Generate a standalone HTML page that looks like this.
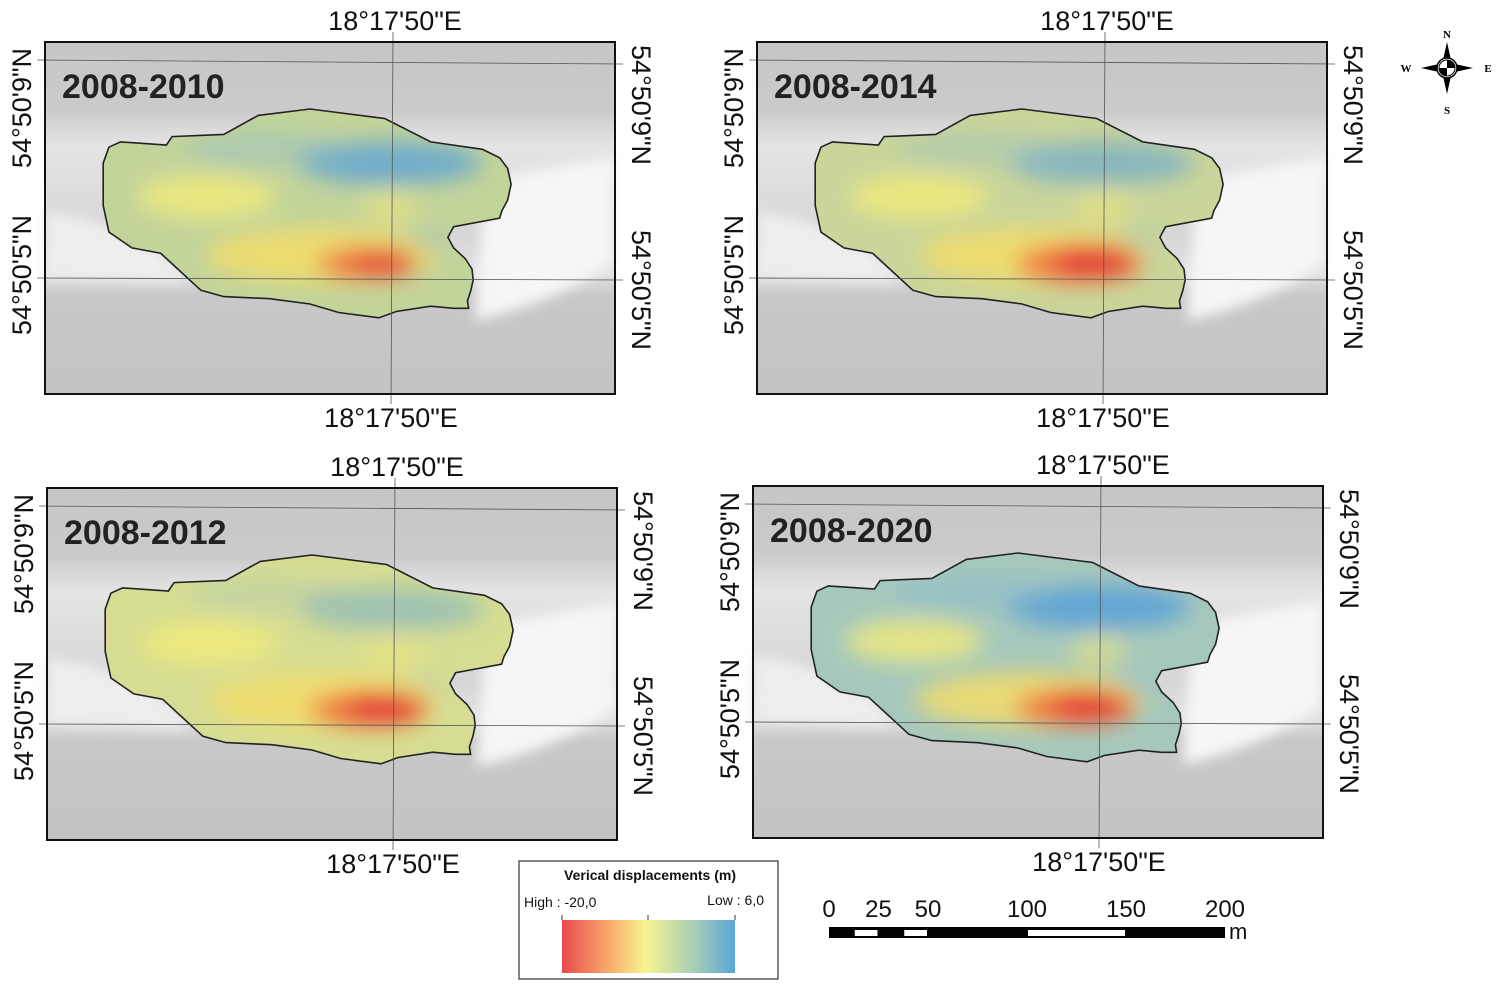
<!DOCTYPE html>
<html><head><meta charset="utf-8">
<style>
body{margin:0;background:#fff;}
svg{display:block;font-family:"Liberation Sans",sans-serif;}
</style></head>
<body>
<svg id="root" width="1499" height="987" viewBox="0 0 1499 987">
<defs>
<filter id="blur" x="-50%" y="-50%" width="200%" height="200%"><feGaussianBlur stdDeviation="11"/></filter>
<filter id="blur2" x="-50%" y="-50%" width="200%" height="200%"><feGaussianBlur stdDeviation="6"/></filter>
<linearGradient id="hill" x1="0" y1="0" x2="0" y2="1">
<stop offset="0" stop-color="#c6c6c6"/><stop offset="0.2" stop-color="#cbcbcb"/>
<stop offset="0.25" stop-color="#dadada"/><stop offset="0.3" stop-color="#e4e4e4"/>
<stop offset="0.55" stop-color="#d6d6d6"/><stop offset="0.66" stop-color="#e2e2e2"/>
<stop offset="0.72" stop-color="#c8c8c8"/><stop offset="1" stop-color="#c4c4c4"/></linearGradient>
<linearGradient id="legendGrad" x1="0" y1="0" x2="1" y2="0">
<stop offset="0" stop-color="#e8494a"/><stop offset="0.25" stop-color="#f7a36a"/>
<stop offset="0.48" stop-color="#f7f48e"/><stop offset="0.75" stop-color="#acd0b4"/>
<stop offset="1" stop-color="#5aa6d8"/></linearGradient>
</defs>
</svg>
<script>
const periods=["2008-2010","2008-2014","2008-2012","2008-2020"];
const frameX=[45,757,47,753];
const frameY=[42,42,488,486];
const baseTone=["#c3d49a","#c9d59a","#d6dd92","#a6c8bc"];
const redStrength=[0.8,1.0,0.95,0.95];
const blueStrength=[0.8,0.6,0.45,0.95];
const legendLabels=["High : -20,0","Low : 6,0"];
const scaleTicks=[0,25,50,100,150,200];

const NS="http://www.w3.org/2000/svg";
const root=document.getElementById('root');
function mk(tag,attrs,parent){const e=document.createElementNS(NS,tag);for(const k in attrs)e.setAttribute(k,attrs[k]);(parent||root).appendChild(e);return e;}
const TX=x=>(x+5)*1.149-5, TY=y=>(y-67)*1.06+67;
const poly0=[[55,103],[65,98],[105,101],[110,93],[155,91],[185,73],[230,67],[295,76],[335,98],[380,105],[395,113],[402,123],[405,138],[402,153],[397,163],[395,170],[355,178],[350,188],[355,198],[365,208],[371,218],[372,228],[370,238],[367,248],[368,255],[355,255],[335,253],[305,258],[290,264],[255,259],[230,251],[195,246],[155,244],[135,238],[115,218],[100,203],[75,198],[55,183],[50,158],[50,118]];
const poly=poly0.map(p=>[TX(p[0]).toFixed(1),TY(p[1]).toFixed(1)]);
const W=570,H=352;
function blob(parent,cx,cy,rx,ry,fill,op){mk('ellipse',{cx:TX(cx),cy:TY(cy),rx:rx*1.15,ry:ry,fill,'fill-opacity':op},parent);}
for(let i=0;i<4;i++){
  const g=mk('g',{transform:`translate(${frameX[i]},${frameY[i]})`});
  
  
  mk('rect',{x:0,y:0,width:W,height:H,fill:'url(#hill)'},g);
  mk('path',{d:`M440 140 Q500 125 570 115 L570 220 Q500 265 430 278 Z`,fill:'#f6f6f6',filter:'url(#blur2)'},g);
  mk('path',{d:`M0 170 Q60 175 120 215 L140 240 L0 235 Z`,fill:'#eeeeee',filter:'url(#blur2)'},g);
  const cid='clip'+i;
  const cp=mk('clipPath',{id:cid},g);
  const pts=poly.map(p=>p.join(',')).join(' ');
  mk('polygon',{points:pts},cp);
  const body=mk('g',{'clip-path':`url(#${cid})`},g);
  mk('rect',{x:0,y:0,width:W,height:H,fill:baseTone[i]},body);
  const bl=mk('g',{filter:'url(#blur)'},body);
  blob(bl,300,118,80,22,'#5fa4d6',blueStrength[i]);
  blob(bl,190,105,70,18,'#8ab9cf',blueStrength[i]*0.5);
  blob(bl,325,195,22,14,'#7ab0d0',blueStrength[i]*0.6);
  blob(bl,140,150,60,22,'#f4ec7a',0.8);
  blob(bl,300,160,25,15,'#f0e67a',0.6);
  blob(bl,240,205,100,28,'#f3dd6a',0.85);
  blob(bl,280,213,55*redStrength[i],20*redStrength[i],'#f07a40',0.95);
  blob(bl,292,210,36*redStrength[i],13*redStrength[i],'#e12f36',redStrength[i]);
  mk('polygon',{points:pts,fill:'none',stroke:'#222','stroke-width':1.6},g);
  mk('line',{x1:348,y1:-10,x2:346,y2:H+10,stroke:'#555','stroke-width':0.8},g);
  mk('line',{x1:-8,y1:18,x2:W+8,y2:22,stroke:'#555','stroke-width':0.8},g);
  mk('line',{x1:-8,y1:236,x2:W+8,y2:238,stroke:'#555','stroke-width':0.8},g);
  mk('rect',{x:0,y:0,width:W,height:H,fill:'none',stroke:'#111','stroke-width':2},g);
  const t=mk('text',{x:17,y:56,'font-size':34,'font-weight':'bold',fill:'#222','font-family':'"Liberation Sans Narrow","Liberation Sans",sans-serif'},g);t.textContent=periods[i];
  
  
  const top=mk('text',{x:350,y:-12,'font-size':27,'text-anchor':'middle',fill:'#111'},g);top.textContent="18°17'50\"E";
  
  
  const bot=mk('text',{x:346,y:H+33,'font-size':27,'text-anchor':'middle',fill:'#111'},g);bot.textContent="18°17'50\"E";
  
  
  [[66,'54°50\'9"N'],[233,'54°50\'5"N']].forEach(([cy,s])=>{
    const l=mk('text',{transform:`translate(-14,${cy}) rotate(-90)`,'font-size':27,'text-anchor':'middle',fill:'#111'},g);l.textContent=s;
    
    
  });
  [[63,'54°50\'9"N'],[248,'54°50\'5"N']].forEach(([cy,s])=>{
    const l=mk('text',{transform:`translate(${W+17},${cy}) rotate(90)`,'font-size':27,'text-anchor':'middle',fill:'#111'},g);l.textContent=s;
    
    
  });
}
const lg=mk('g',{});


mk('rect',{x:519,y:861,width:259,height:118,fill:'#fff',stroke:'#333','stroke-width':1.2},lg);
const lt=mk('text',{x:650,y:880,'font-size':14,'font-weight':'bold','text-anchor':'middle',fill:'#111'},lg);lt.textContent="Verical displacements (m)";
const l1=mk('text',{x:524,y:907,'font-size':14,fill:'#111'},lg);l1.textContent=legendLabels[0];
const l2=mk('text',{x:764,y:905,'font-size':14,'text-anchor':'end',fill:'#111'},lg);l2.textContent=legendLabels[1];
[562,648,735].forEach(x=>mk('line',{x1:x,y1:915,x2:x,y2:920,stroke:'#333'},lg));
mk('rect',{x:562,y:920,width:173,height:53,fill:'url(#legendGrad)'},lg);
const sb=mk('g',{});


const sx=v=>829+v*(1225-829)/200;
mk('rect',{x:sx(0),y:927,width:sx(200)-sx(0),height:11,fill:'#000'},sb);
[[12.5,25],[37.5,50],[100,150]].forEach(([a,b])=>mk('rect',{x:sx(a)+1,y:930,width:sx(b)-sx(a)-2,height:6,fill:'#fff'},sb));
scaleTicks.forEach(v=>{const t=mk('text',{x:sx(v),y:917,'font-size':24,'text-anchor':'middle',fill:'#111'},sb);t.textContent=v;});
const mt=mk('text',{x:1229,y:939,'font-size':22,fill:'#111'},sb);mt.textContent='m';
const cg=mk('g',{transform:'translate(1447,68)'});


mk('polygon',{points:'0,-26 4,-8 0,0 -4,-8',fill:'#000'},cg);
mk('polygon',{points:'0,26 4,8 0,0 -4,8',fill:'#000'},cg);
mk('polygon',{points:'-26,0 -8,-4 0,0 -8,4',fill:'#000'},cg);
mk('polygon',{points:'26,0 8,-4 0,0 8,4',fill:'#000'},cg);
mk('circle',{cx:0,cy:0,r:10,fill:'#fff',stroke:'#000','stroke-width':1.5},cg);
mk('path',{d:'M0 0 L0 -8 A8 8 0 0 1 8 0 Z',fill:'#000'},cg);
mk('path',{d:'M0 0 L0 8 A8 8 0 0 1 -8 0 Z',fill:'#000'},cg);
mk('circle',{cx:0,cy:0,r:8,fill:'none',stroke:'#000'},cg);
[['N',0,-30],['S',0,46],['W',-41,4],['E',41,4]].forEach(([s,x,y])=>{const t=mk('text',{x,y,'font-size':11,'font-family':'Liberation Serif','font-weight':'bold','text-anchor':'middle'},cg);t.textContent=s;});
</script>
</body></html>
